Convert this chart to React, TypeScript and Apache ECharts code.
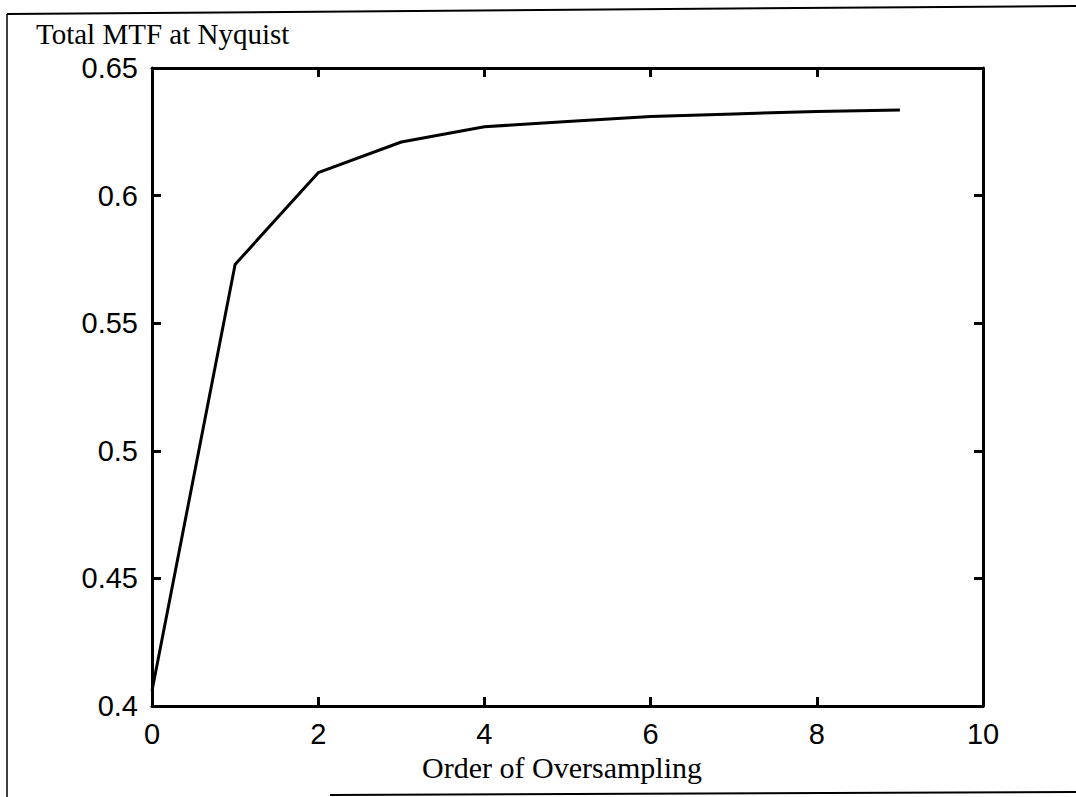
import React, { useEffect, useRef } from "react";
import * as echarts from "echarts";

const oversamplingOrder = [0, 1, 2, 3, 4, 5, 6, 7, 8, 9];
const totalMTF = [0.406, 0.573, 0.609, 0.621, 0.627, 0.629, 0.631, 0.632, 0.633, 0.6335];
const yTitle = "Total MTF at Nyquist";
const xTitle = "Order of Oversampling";

export default function App() {
  const ref = useRef<HTMLDivElement>(null);
  useEffect(() => {
    if (!ref.current) return;
    const chart = echarts.init(ref.current, null, { renderer: "svg" });
    const tickFont = { fontFamily: "Liberation Sans", fontSize: 29, color: "#000" };
    const axisLine = { show: true, onZero: false, lineStyle: { color: "#000", width: 3 } };
    const axisTick = { show: true, inside: true, length: 9, lineStyle: { color: "#000", width: 3 } };
    chart.setOption({
      animation: false,
      backgroundColor: "#fff",
      grid: { left: 152, right: 93, top: 68, bottom: 91 },
      xAxis: [
        {
          type: "value", min: 0, max: 10, interval: 2, position: "bottom",
          axisLine, axisTick, splitLine: { show: false },
          axisLabel: { ...tickFont, margin: 13 },
        },
        {
          type: "value", min: 0, max: 10, interval: 2, position: "top",
          axisLine, axisTick, splitLine: { show: false }, axisLabel: { show: false },
        },
      ],
      yAxis: [
        {
          type: "value", min: 0.4, max: 0.65, interval: 0.05, position: "left",
          axisLine, axisTick, splitLine: { show: false },
          axisLabel: { ...tickFont, margin: 14, formatter: (v: number) => String(+v.toFixed(2)) },
        },
        {
          type: "value", min: 0.4, max: 0.65, interval: 0.05, position: "right",
          axisLine, axisTick, splitLine: { show: false }, axisLabel: { show: false },
        },
      ],
      series: [
        {
          type: "line",
          data: oversamplingOrder.map((x, i) => [x, totalMTF[i]]),
          symbol: "none",
          lineStyle: { color: "#000", width: 3 },
        },
      ],
      graphic: [
        { type: "text", left: 36, top: 19, style: { text: yTitle, fontFamily: "Liberation Serif", fontSize: 29, fill: "#000" } },
        { type: "text", x: 562, y: 767, style: { text: xTitle, fontFamily: "Liberation Serif", fontSize: 30, fill: "#000", align: "center", verticalAlign: "middle" } },
        { type: "line", shape: { x1: 7, y1: 14, x2: 1076, y2: 6 }, style: { stroke: "#000", lineWidth: 2 } },
        { type: "line", shape: { x1: 7, y1: 14, x2: 7, y2: 797 }, style: { stroke: "#000", lineWidth: 1.5 } },
        { type: "line", shape: { x1: 330, y1: 795, x2: 1076, y2: 792 }, style: { stroke: "#000", lineWidth: 2 } },
      ],
    });
    return () => chart.dispose();
  }, []);
  return <div ref={ref} style={{ position: "fixed", left: 0, top: 0, width: 1076, height: 797 }} />;
}
